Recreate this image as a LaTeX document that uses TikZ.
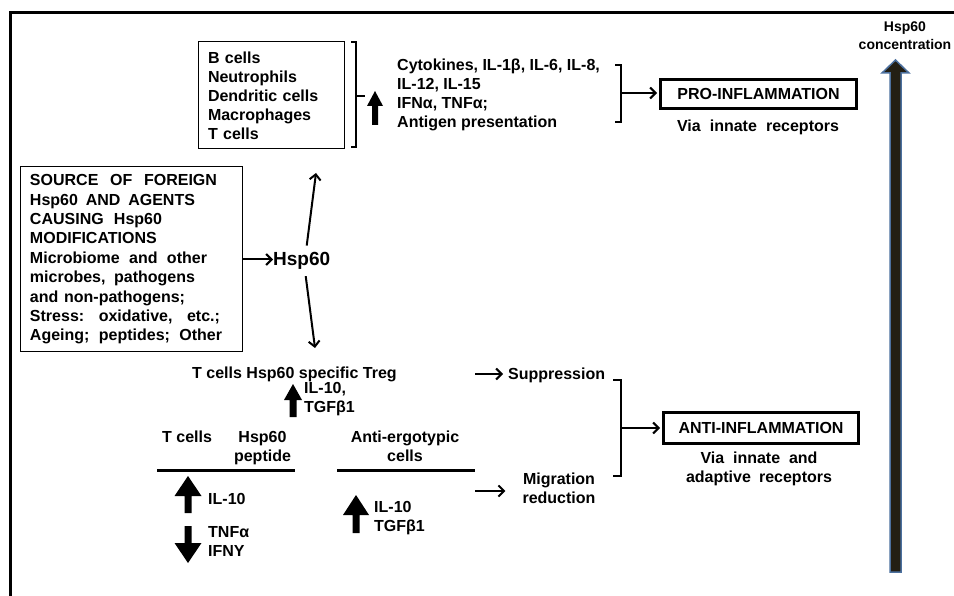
\documentclass[tikz,border=0pt]{standalone}
\usepackage{fontspec}
\setmainfont{Liberation Sans}
\usetikzlibrary{arrows.meta,calc}
\definecolor{bigfill}{RGB}{35,31,20}
\definecolor{bigedge}{RGB}{76,112,158}
\newcommand\tf{\fontsize{16}{19}\selectfont\bfseries}
\newcommand\tfsrc{\fontsize{16}{19.4}\selectfont\bfseries}
\newcommand\tfbig{\fontsize{19}{22}\selectfont\bfseries}
\newcommand\tfsmall{\fontsize{14}{18}\selectfont\bfseries}
\newcommand\jline[2]{\leavevmode\hbox to #1pt{#2}}
\newcommand\gp{\hfil}
\tikzset{
  txt/.style={inner sep=0pt, font=\tf},
  lbl/.style={txt, align=left, anchor=base west},
  clbl/.style={txt, align=center, anchor=base},
  arr/.style={line width=2pt, -{Straight Barb[length=5.5pt,width=11pt]}},
  brk/.style={line width=2pt},
  rule/.style={line width=3pt},
  thickbox/.style={draw, line width=3pt, inner sep=0pt, font=\tf},
  pics/fatarrow/.style n args={4}{code={
    \fill (0,0) -- (#1/2,#2) -- (#3/2,#2) -- (#3/2,#4) -- (-#3/2,#4) -- (-#3/2,#2) -- (-#1/2,#2) -- cycle;}}
}
\begin{document}
\begin{tikzpicture}[x=1pt,y=-1pt]
\useasboundingbox (0,0) rectangle (954,596);
% frame
\draw[line width=2.5pt] (954,12.5) -- (10.5,12.5) -- (10.5,596);

% cells box
\node[draw, line width=1pt, text width=126pt, align=left, minimum height=107pt,
      inner xsep=10pt, inner ysep=0pt, font=\tf] (cells) at (271,95.5)
  {B cells\\Neutrophils\\Dendritic cells\\Macrophages\\T cells};
\draw[brk] (351,42) -- (356,42) -- (356,147) -- (351,147);
\draw[brk] (356,96) -- (365,96);
\pic at (375,91) {fatarrow={16}{15}{6}{34}};

% cytokines (base = last line)
\node[lbl] (cyto) at (397,127.7)
  {Cytokines, IL-1β, IL-6, IL-8,\\IL-12, IL-15\\IFNα, TNFα;\\Antigen presentation};
\draw[brk] (615,65) -- (621,65) -- (621,122) -- (615,122);
\coordinate (probr) at (621,93);

% PRO box
\node[thickbox, minimum width=196pt, minimum height=29pt, anchor=north west] (pro) at (659,78) {PRO-INFLAMMATION};
\draw[arr, shorten >=2pt] (probr) -- (probr -| pro.west);
\node[clbl] (proVia) at (758,131.5) {\jline{162}{Via\gp innate\gp receptors}};

% concentration arrow
\node[txt, font=\tfsmall, align=center, anchor=base] (conc) at (905,50) {Hsp60\\concentration};
\filldraw[fill=bigfill, draw=bigedge, line width=1.5pt]
  (895.5,60) -- (909,73) -- (901,73) -- (901,572) -- (890,572) -- (890,73) -- (882,73) -- cycle;

% source box
\node[draw, line width=1pt, text width=202pt, align=left, minimum width=222pt, minimum height=185pt,
      inner xsep=10pt, inner ysep=0pt, font=\tfsrc] (src) at (131,259.5)
  {\jline{187}{SOURCE\gp OF\gp FOREIGN}\\
   \jline{165}{Hsp60\gp AND\gp AGENTS}\\
   \jline{132}{CAUSING\gp Hsp60}\\
   MODIFICATIONS\\
   \jline{177}{Microbiome\gp and\gp other}\\
   \jline{165}{microbes,\gp pathogens}\\
   \jline{155}{and\gp non-pathogens;}\\
   \jline{190}{Stress:\gp oxidative,\gp etc.;}\\
   \jline{192}{Ageing;\gp peptides;\gp Other}};

% Hsp60
\node[txt, font=\tfbig, anchor=base west] (hsp) at (273,266) {Hsp60};
\draw[arr] (src.east) -- (src.east -| hsp.west);
\coordinate (upend) at (316,173);
\coordinate (downend) at (315,348);
\draw[arr] ($(hsp.north)+(5,-7)$) -- (upend);
\draw[arr] ($(hsp.south)+(4,6)$) -- (downend);

% Treg
\node[clbl] (treg) at (294.5,378.7) {T cells Hsp60 specific Treg};
\pic at (293,384) {fatarrow={18}{16}{7}{33}};
\node[lbl] (tregil) at (304,412.7) {IL-10,\\TGFβ1};

% suppression
\coordinate (supfrom) at (475,374);
\node[lbl] (supp) at (508,379.7) {Suppression};
\draw[arr, shorten >=5pt] (supfrom) -- (supfrom -| supp.west);

% T cells / Hsp60 peptide
\node[lbl] (tcells) at (162,442.7) {T cells};
\node[clbl] (pept) at (262.5,461.7) {Hsp60\\peptide};
\draw[rule] (157,470) -- (295,470);
\pic at (188,476) {fatarrow={27}{20}{7}{37}};
\node[lbl] (il10a) at (208,504.7) {IL-10};
\pic[rotate=180] at (188,563) {fatarrow={27}{20}{7}{37}};
\node[lbl] (tnf) at (208,556.7) {TNFα\\IFNY};

% anti-ergotypic
\node[clbl] (anti) at (405,461.7) {Anti-ergotypic\\cells};
\draw[rule] (337,470) -- (475,470);
\pic at (356,495) {fatarrow={26}{20}{7}{38}};
\node[lbl] (il10b) at (374,531.7) {IL-10\\TGFβ1};

% migration
\coordinate (migfrom) at (475,491);
\node[clbl] (mig) at (559,503.7) {Migration\\reduction};
\draw[arr, shorten >=17pt] (migfrom) -- (migfrom -| mig.west);

% anti bracket and box
\draw[brk] (613,380) -- (621,380) -- (621,476) -- (613,476);
\coordinate (antibr) at (621,428);
\node[thickbox, minimum width=195pt, minimum height=31pt, anchor=north west] (antibox) at (662,411) {ANTI-INFLAMMATION};
\draw[arr, shorten >=2pt] (antibr) -- (antibr -| antibox.west);
\node[clbl] (antivia) at (759,482.7)
  {\jline{117}{Via\gp innate\gp and}\\\jline{146}{adaptive\gp receptors}};
\end{tikzpicture}
\end{document}
